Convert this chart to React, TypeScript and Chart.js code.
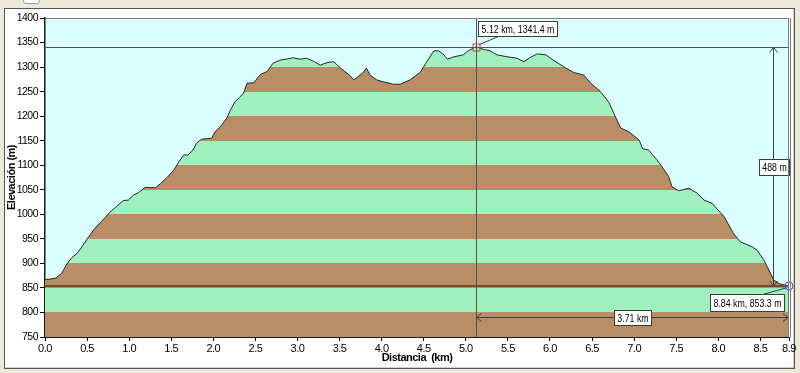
import React, { useEffect, useRef } from 'react';
import { Chart, registerables } from 'chart.js';

Chart.register(...registerables);

// ---- data ----
const distanceKm = [
  0.0, 0.06, 0.13, 0.2, 0.26, 0.32, 0.38, 0.44, 0.51, 0.59, 0.67, 0.77, 0.85, 0.93, 0.99,
  1.05, 1.11, 1.19, 1.31, 1.37, 1.45, 1.53, 1.59, 1.65, 1.7, 1.76, 1.8, 1.86, 1.98,
  2.02, 2.08, 2.16, 2.2, 2.26, 2.31, 2.36, 2.4, 2.48, 2.56, 2.64, 2.71, 2.79, 2.95,
  3.03, 3.11, 3.19, 3.27, 3.35, 3.43, 3.51, 3.61, 3.67, 3.77, 3.82, 3.86, 3.94,
  4.02, 4.14, 4.22, 4.34, 4.46, 4.54, 4.62, 4.68, 4.74, 4.78, 4.86, 4.97,
  5.01, 5.05, 5.12, 5.21, 5.29, 5.37, 5.49, 5.61, 5.69, 5.77, 5.85, 5.95,
  6.04, 6.16, 6.28, 6.4, 6.48, 6.6, 6.7, 6.76, 6.84, 6.94,
  7.06, 7.1, 7.17, 7.27, 7.33, 7.41, 7.45, 7.53, 7.65, 7.75, 7.83, 7.93, 7.99,
  8.07, 8.18, 8.26, 8.4, 8.46, 8.54, 8.62, 8.66, 8.72, 8.78, 8.84,
];
const elevationM = [
  867, 868, 870, 880, 899, 912, 920, 934, 952, 971, 985, 1004, 1016, 1028, 1029,
  1039, 1044, 1055, 1054, 1062, 1075, 1090, 1107, 1121, 1121, 1131, 1145, 1153, 1155,
  1168, 1178, 1196, 1211, 1230, 1238, 1247, 1267, 1268, 1285, 1291, 1308, 1314, 1319,
  1316, 1318, 1312, 1304, 1309, 1311, 1298, 1285, 1274, 1287, 1298, 1284, 1274,
  1270, 1265, 1265, 1274, 1290, 1312, 1333, 1333, 1325, 1316, 1321, 1325,
  1331, 1335, 1341.4, 1336, 1333, 1325, 1321, 1318, 1311, 1320, 1327, 1325,
  1314, 1301, 1289, 1284, 1268, 1250, 1228, 1205, 1176, 1168,
  1151, 1134, 1131, 1111, 1097, 1077, 1056, 1048, 1053, 1043, 1029, 1022, 1010,
  995, 961, 944, 934, 927, 907, 880, 866, 859, 856, 853.3,
];
const xTickValues = [0, 0.5, 1, 1.5, 2, 2.5, 3, 3.5, 4, 4.5, 5, 5.5, 6, 6.5, 7, 7.5, 8, 8.5, 8.84];
const xTickLabels = ['0.0', '0.5', '1.0', '1.5', '2.0', '2.5', '3.0', '3.5', '4.0', '4.5', '5.0', '5.5', '6.0', '6.5', '7.0', '7.5', '8.0', '8.5', '8.9'];
const xMin = 0;
const xMax = 8.84;
const yMin = 750;
const yMax = 1400;
const yStep = 50;
const bandColors = ['#b98d66', '#a0f0bf'];
const peakPoint = { x: 5.12, y: 1341.4, label: '5.12 km, 1341.4 m' };
const endPoint = { x: 8.84, y: 853.3, label: '8.84 km, 853.3 m' };
const riseLabel = '488 m';
const runLabel = '3.71 km';
const xTitle = 'Distancia  (km)';
const yTitle = 'Elevación (m)';

const FONT = '"Liberation Sans", Arial, sans-serif';
const SQUEEZE = 0.8;

function box(ctx: CanvasRenderingContext2D, cx: number, cy: number, text: string, h: number) {
  ctx.font = `11px ${FONT}`;
  const tw = ctx.measureText(text).width * SQUEEZE;
  const w = Math.round(tw + 6);
  const x = Math.round(cx - w / 2) + 0.5;
  const y = Math.round(cy - h / 2) + 0.5;
  ctx.fillStyle = '#ffffff';
  ctx.fillRect(x, y, w, h);
  ctx.strokeStyle = '#3c3c3c';
  ctx.lineWidth = 1;
  ctx.strokeRect(x, y, w, h);
  ctx.save();
  ctx.fillStyle = '#000000';
  ctx.textAlign = 'center';
  ctx.textBaseline = 'middle';
  ctx.translate(x + w / 2, y + h / 2 + 0.5);
  ctx.scale(SQUEEZE, 1);
  ctx.fillText(text, 0, 0);
  ctx.restore();
  return { x, y, w, h };
}

function textWidth(ctx: CanvasRenderingContext2D, text: string) {
  ctx.font = `11px ${FONT}`;
  return ctx.measureText(text).width * SQUEEZE + 6;
}

function line(ctx: CanvasRenderingContext2D, x1: number, y1: number, x2: number, y2: number) {
  ctx.beginPath();
  ctx.moveTo(x1, y1);
  ctx.lineTo(x2, y2);
  ctx.stroke();
}

const overlayPlugin = {
  id: 'overlay',
  beforeDraw(chart: any) {
    const { ctx, chartArea: a } = chart;
    ctx.save();
    ctx.fillStyle = '#dbffff';
    ctx.fillRect(a.left, a.top, a.right - a.left, a.bottom - a.top);
    ctx.restore();
    try {
      (ctx as any).letterSpacing = '-0.5px';
    } catch (e) {
      /* ignore */
    }
  },
  beforeDatasetsDraw(chart: any) {
    try {
      (chart.ctx as any).letterSpacing = '0px';
    } catch (e) {
      /* ignore */
    }
  },
  afterDatasetsDraw(chart: any) {
    const { ctx, chartArea: a, scales } = chart;
    const xs = scales.x;
    const ys = scales.y;
    const px = Math.round(xs.getPixelForValue(peakPoint.x)) + 0.5;
    const py = Math.round(ys.getPixelForValue(peakPoint.y)) + 0.5;
    const ex = xs.getPixelForValue(endPoint.x);
    const ey = Math.round(ys.getPixelForValue(endPoint.y));
    ctx.save();
    ctx.strokeStyle = '#505050';
    ctx.lineWidth = 1;
    line(ctx, a.left, py, a.right, py);
    line(ctx, px, a.top, px, a.bottom);
    ctx.strokeStyle = '#6e4f36';
    ctx.lineWidth = 2;
    line(ctx, a.left, ey, a.right, ey);

    // vertical measure
    ctx.strokeStyle = '#404040';
    ctx.lineWidth = 1;
    const mx = Math.round(a.right - 16) + 0.5;
    line(ctx, mx, py, mx, ey);
    line(ctx, mx - 4, py + 5, mx, py);
    line(ctx, mx + 4, py + 5, mx, py);
    line(ctx, mx - 4, ey - 5, mx, ey);
    line(ctx, mx + 4, ey - 5, mx, ey);
    // horizontal measure
    const my = Math.round(a.bottom - 20) + 0.5;
    line(ctx, px, my, a.right - 1, my);
    line(ctx, px + 5, my - 4, px, my);
    line(ctx, px + 5, my + 4, px, my);
    line(ctx, a.right - 6, my - 4, a.right - 1, my);
    line(ctx, a.right - 6, my + 4, a.right - 1, my);

    box(ctx, mx, (py + ey) / 2, riseLabel, 16);
    box(ctx, (px + a.right) / 2, my, runLabel, 15);

    const pw = textWidth(ctx, peakPoint.label);
    const pb = box(ctx, px + 2 + pw / 2, a.top + 10, peakPoint.label, 15);
    ctx.strokeStyle = '#404040';
    line(ctx, px + 3, py - 3, pb.x + 20, pb.y + pb.h);
    const ew = textWidth(ctx, endPoint.label);
    const eb = box(ctx, ex - 5 - ew / 2, ey + 16, endPoint.label, 17);
    ctx.strokeStyle = '#404040';
    line(ctx, ex - 3, ey + 2, eb.x + eb.w - 22, eb.y);

    // markers
    ctx.strokeStyle = '#e23a3a';
    ctx.lineWidth = 1;
    ctx.strokeRect(px - 3.5, py - 3.5, 7, 7);
    ctx.fillStyle = '#e23a3a';
    ctx.fillRect(px - 0.5, py - 0.5, 1, 1);
    ctx.strokeStyle = '#3246e6';
    ctx.beginPath();
    ctx.arc(ex, ey, 4, 0, Math.PI * 2);
    ctx.stroke();

    // plot border
    ctx.strokeStyle = '#7a7a7a';
    ctx.lineWidth = 1;
    line(ctx, a.left, a.top + 0.5, a.right, a.top + 0.5);
    line(ctx, a.right - 0.5, a.top, a.right - 0.5, a.bottom);
    line(ctx, a.right + 1.5, a.top, a.right + 1.5, a.bottom);
    ctx.restore();
  },
};

export default function App() {
  const ref = useRef<HTMLCanvasElement | null>(null);
  useEffect(() => {
    if (!ref.current) return;
    const chart = new Chart(ref.current, {
      type: 'line',
      data: {
        datasets: [
          {
            data: distanceKm.map((d, i) => ({ x: d, y: elevationM[i] })),
            borderColor: '#262626',
            borderWidth: 1,
            pointRadius: 0,
            tension: 0,
            fill: 'start',
            backgroundColor: (c: any) => {
              const ch = c.chart;
              const a = ch.chartArea;
              if (!a) return bandColors[0];
              const ys = ch.scales.y;
              const span = a.bottom - a.top;
              const g = ch.ctx.createLinearGradient(0, a.bottom, 0, a.top);
              let i = 0;
              for (let v = yMin; v < yMax; v += yStep, i++) {
                const p0 = Math.min(1, Math.max(0, (a.bottom - ys.getPixelForValue(v)) / span));
                const p1 = Math.min(1, Math.max(0, (a.bottom - ys.getPixelForValue(v + yStep)) / span));
                const col = bandColors[i % 2];
                g.addColorStop(p0, col);
                g.addColorStop(p1, col);
              }
              return g;
            },
          },
        ],
      },
      options: {
        responsive: false,
        animation: false,
        events: [],
        layout: { padding: { left: 0, right: 11, top: 18, bottom: 0 } },
        plugins: { legend: { display: false }, tooltip: { enabled: false } },
        scales: {
          x: {
            type: 'linear',
            min: xMin,
            max: xMax,
            afterFit: (s: any) => {
              s.height = 36;
            },
            afterBuildTicks: (s: any) => {
              s.ticks = xTickValues.map((v) => ({ value: v }));
            },
            ticks: {
              autoSkip: false,
              maxRotation: 0,
              padding: 1,
              color: '#000',
              font: { family: FONT, size: 11 },
              callback: (v: any, i: number) => xTickLabels[i] ?? Number(v).toFixed(1),
            },
            grid: { drawOnChartArea: false, tickLength: 4, color: '#000' },
            border: { color: '#1a1a1a', width: 1 },
            title: {
              display: true,
              text: xTitle,
              color: '#000',
              font: { family: FONT, size: 11, weight: 'bold' },
              padding: { top: 0, bottom: 8 },
            },
          },
          y: {
            min: yMin,
            max: yMax,
            afterFit: (s: any) => {
              s.width = 45;
            },
            ticks: {
              stepSize: yStep,
              padding: 2,
              color: '#000',
              font: { family: FONT, size: 10.5 },
              callback: (v: any) => String(v),
            },
            grid: { drawOnChartArea: false, tickLength: 5, color: '#000' },
            border: { color: '#1a1a1a', width: 1.5 },
            title: {
              display: true,
              text: yTitle,
              color: '#000',
              font: { family: FONT, size: 11, weight: 'bold' },
              padding: { top: 5, bottom: 0 },
            },
          },
        },
      },
      plugins: [overlayPlugin],
    });
    return () => chart.destroy();
  }, []);

  return (
    <div style={{ position: 'fixed', left: 0, top: 0, width: 800, height: 373, background: '#ece9d8', overflow: 'hidden' }}>
      <div style={{ position: 'absolute', left: 23, top: -10, width: 15, height: 12, border: '1px solid #a0a0a0', borderRadius: 3, background: '#ffffff' }} />
      <div
        style={{
          position: 'absolute',
          left: 4,
          top: 8,
          width: 789,
          height: 359,
          border: '1px solid #555555',
          boxShadow: 'inset -1px -1px 0 #d0d0d0',
          background: '#ffffff',
        }}
      />
      <canvas ref={ref} width={800} height={373} style={{ position: 'absolute', left: 0, top: 0 }} />
    </div>
  );
}
